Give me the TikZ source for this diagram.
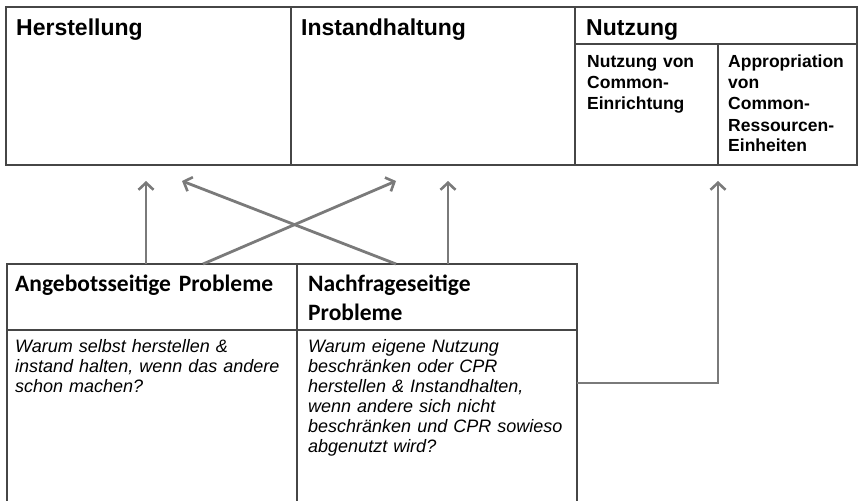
\documentclass[tikz,border=0pt]{standalone}
\usepackage{fontspec}
\setmainfont{Liberation Sans}
\newfontfamily\calfont{Carlito}
\usetikzlibrary{arrows.meta}
\definecolor{bordergray}{HTML}{464646}
\definecolor{arrowgray}{HTML}{7A7A7A}
\begin{document}
\begin{tikzpicture}[x=1pt,y=-1pt,
  cell/.style={draw=bordergray,line width=1.5pt,inner sep=0pt,outer sep=0pt,anchor=north west},
  hd/.style={font=\bfseries\fontsize{23}{27}\selectfont,inner sep=0pt,anchor=base west},
  sub/.style={font=\bfseries\fontsize{17.5}{21}\selectfont,inner sep=0pt,anchor=base west,text width=125pt,align=left},
  bhd/.style={font=\calfont\bfseries\fontsize{23.5}{29}\selectfont,inner sep=0pt,anchor=base west,text width=270pt,align=left},
  qtext/.style={font=\itshape\fontsize{18}{20}\selectfont,inner sep=0pt,anchor=base west,text width=275pt,align=left},
  arr/.style={draw=arrowgray,line width=2.8pt,-{Straight Barb[length=7pt,width=15pt,line width=2.6pt]}}]
\useasboundingbox (0,0) rectangle (858,500);
% connectors
\coordinate (t1) at (146,181);
\coordinate (t2) at (182,181);
\coordinate (t3) at (396,181);
\coordinate (t4) at (448,181);
\coordinate (t5) at (718,181);
\coordinate (s2) at (203,0);
\coordinate (s3) at (396,0);
\coordinate (c5) at (0,383);
% top table
\node[cell,minimum width=285pt,minimum height=158pt] (herst) at (6,7) {};
\node[cell,minimum width=284pt,minimum height=158pt] (inst) at (291,7) {};
\node[cell,minimum width=282pt,minimum height=37pt] (nutz) at (575,7) {};
\node[cell,minimum width=143pt,minimum height=121pt] (nutzA) at (575,44) {};
\node[cell,minimum width=139pt,minimum height=121pt] (nutzB) at (718,44) {};
\node[hd] (hersT) at (16,36) {Herstellung};
\node[hd] (instT) at (301,36) {Instandhaltung};
\node[hd] (nutzT) at (586,36) {Nutzung};
\node[sub] (nutzAT) at (587,68) {Nutzung von\\Common-\\Einrichtung};
\node[sub] (nutzBT) at (728,68) {Appropriation\\von\\Common-\\Ressourcen-\\Einheiten};
% bottom table
\node[cell,minimum width=290pt,minimum height=66pt] (angh) at (7,264) {};
\node[cell,minimum width=280pt,minimum height=66pt] (nachh) at (297,264) {};
\node[cell,minimum width=290pt,minimum height=180pt] (angb) at (7,330) {};
\node[cell,minimum width=280pt,minimum height=180pt] (nachb) at (297,330) {};
\node[bhd] (anghT) at (15,291) {Angebotsseitige Probleme};
\node[bhd] (nachhT) at (308,291) {Nachfrageseitige\\Probleme};
\node[qtext] (angbT) at (15,352) {Warum selbst herstellen \&\\instand halten, wenn das andere\\schon machen?};
\node[qtext] (nachbT) at (308,352) {Warum eigene Nutzung\\beschränken oder CPR\\herstellen \& Instandhalten,\\wenn andere sich nicht\\beschränken und CPR sowieso\\abgenutzt wird?};
\draw[arr] (angh.north -| t1) -- (t1);
\draw[arr] (angh.north -| s2) -- (t3);
\draw[arr] (nachh.north -| s3) -- (t2);
\draw[arr] (nachh.north -| t4) -- (t4);
\draw[arr] (nachb.east |- c5) -| (t5);
\end{tikzpicture}
\end{document}
